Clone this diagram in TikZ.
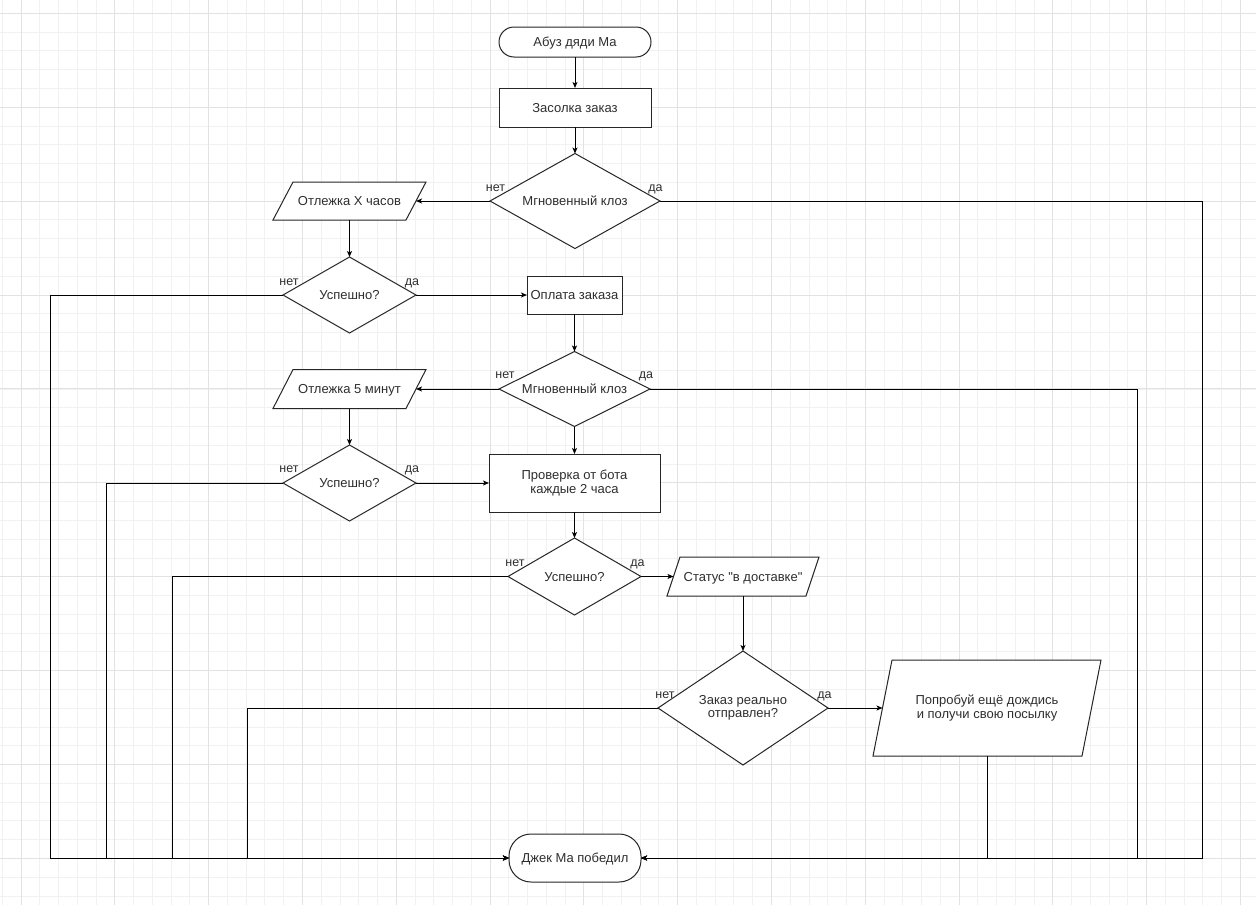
\documentclass[tikz,border=0pt]{standalone}
\usepackage{fontspec}
\setmainfont{Liberation Sans}
\usetikzlibrary{shapes.geometric,arrows.meta}
\definecolor{txt}{HTML}{2E2E2E}
\definecolor{gminor}{HTML}{F1F1F1}
\definecolor{gmajor}{HTML}{E2E2E2}
\tikzset{
  shp/.style={draw=black!85, line width=1pt, fill=white},
  basenode/.style={inner sep=0pt, outer sep=0pt, text=txt, align=center,
    font=\fontsize{13}{13.3}\selectfont},
  one/.style={text height=9.3pt, text depth=0pt},
  term/.style={basenode, one, shp, rectangle, rounded corners=#1},
  stepbox/.style={basenode, shp, rectangle},
  decision/.style={basenode, shp, diamond, aspect=2},
  parabox/.style={basenode, rectangle},
  lbl/.style={inner sep=0pt, outer sep=0pt, text=txt, one,
    font=\fontsize{12.5}{13.3}\selectfont},
  arr/.style={draw=black, line width=1pt, -{Stealth[length=6pt,width=5pt,inset=1.5pt]}},
}
\newcommand\drawpara[2]{%
  \draw[shp] ([xshift=#2]#1.north west) -- (#1.north east) -- ([xshift=-#2]#1.south east) -- (#1.south west) -- cycle;}
\begin{document}
\begin{tikzpicture}[x=1pt,y=-1pt]
\useasboundingbox (0,0) rectangle (1256,905);
\fill[white] (0,0) rectangle (1256,905);
% grid
\foreach \i in {-1,...,66} \draw[gminor, line width=0.8pt] ({21+18.76*\i},0) -- ({21+18.76*\i},905);
\foreach \j in {0,...,47} \draw[gminor, line width=0.8pt] (0,{13.3+18.78*\j}) -- (1256,{13.3+18.78*\j});
\foreach \k in {0,...,13} \draw[gmajor, line width=0.9pt] ({21+93.8*\k},0) -- ({21+93.8*\k},905);
\foreach \k in {0,...,9} \draw[gmajor, line width=0.9pt] (0,{13.3+93.9*\k}) -- (1256,{13.3+93.9*\k});

% nodes
\node[term=15pt, minimum width=152pt, minimum height=30pt] (s) at (575,42) {Абуз дяди Ма};
\node[stepbox, one, minimum width=152pt, minimum height=39pt] (b1) at (575,107.5) {Засолка заказ};
\node[decision, one, minimum width=170pt, minimum height=95pt] (d1) at (575,201) {Мгновенный клоз};
\node[parabox, one, minimum width=153pt, minimum height=38pt] (p1) at (349.5,201) {};
\drawpara{p1}{20pt}
\node[basenode, one] at (p1) {Отлежка X часов};
\node[decision, one, minimum width=133pt, minimum height=76pt] (d2) at (349.5,295) {Успешно?};
\node[stepbox, one, minimum width=95pt, minimum height=38pt] (b2) at (574.5,295) {Оплата заказа};
\node[decision, one, minimum width=151pt, minimum height=75pt] (d3) at (574.5,389) {Мгновенный клоз};
\node[parabox, one, minimum width=153pt, minimum height=39pt] (p2) at (349.5,389) {};
\drawpara{p2}{20pt}
\node[basenode, one] at (p2) {Отлежка 5 минут};
\node[decision, one, minimum width=133pt, minimum height=76pt] (d4) at (349.5,483) {Успешно?};
\node[stepbox, minimum width=171pt, minimum height=58pt] (b3) at (574.5,483) {Проверка от бота\\каждые 2 часа};
\node[decision, one, minimum width=133pt, minimum height=77pt] (d5) at (574.5,576.5) {Успешно?};
\node[parabox, minimum width=152pt, minimum height=39pt] (p3) at (743,576.5) {};
\drawpara{p3}{13pt}
\node[basenode, one] at (p3) {Статус \textquotedbl в доставке\textquotedbl};
\node[decision, minimum width=170pt, minimum height=114pt] (d6) at (743,708) {Заказ реально\\отправлен?};
\node[parabox, minimum width=228pt, minimum height=96pt] (p4) at (987,708) {};
\drawpara{p4}{19pt}
\node[basenode] at (p4) {Попробуй ещё дождись\\и получи свою посылку};
\node[term=22pt, minimum width=132pt, minimum height=48pt] (e) at (575,858) {Джек Ма победил};

% corner coordinates
\coordinate (c1) at (1202,858);
\coordinate (c2) at (50,858);
\coordinate (c3) at (1137,858);
\coordinate (c4) at (106,858);
\coordinate (c5) at (172,858);
\coordinate (c6) at (247,858);

% connectors
\draw[arr] (s.south) -- (b1.north);
\draw[arr] (b1.south) -- (d1.north);
\draw[arr] (d1.west) -- ([xshift=-10pt]p1.east);
\draw[arr] (d1.east) -| (c1) -- (e.east);
\draw[arr] (p1.south) -- (d2.north);
\draw[arr] (d2.west) -| (c2) -- (e.west);
\draw[arr] (d2.east) -- (b2.west);
\draw[arr] (b2.south) -- (d3.north);
\draw[arr] (d3.west) -- ([xshift=-10pt]p2.east);
\draw[arr] (d3.east) -| (c3) -- (e.east);
\draw[arr] (d3.south) -- (b3.north);
\draw[arr] (p2.south) -- (d4.north);
\draw[arr] (d4.west) -| (c4) -- (e.west);
\draw[arr] (d4.east) -- (b3.west);
\draw[arr] (b3.south) -- (d5.north);
\draw[arr] (d5.west) -| (c5) -- (e.west);
\draw[arr] (d5.east) -- ([xshift=6.5pt]p3.west);
\draw[arr] (p3.south) -- (d6.north);
\draw[arr] (d6.west) -| (c6) -- (e.west);
\draw[arr] (d6.east) -- ([xshift=9.5pt]p4.west);
\draw[arr] (p4.south) |- (e.east);

% labels
\node[lbl] (n1) at (495.5,187) {нет};
\node[lbl] (y1) at (655.5,187) {да};
\node[lbl] (n2) at (289,281) {нет};
\node[lbl] (y2) at (412,281) {да};
\node[lbl] (n3) at (505,374) {нет};
\node[lbl] (y3) at (646,374) {да};
\node[lbl] (n4) at (289,468) {нет};
\node[lbl] (y4) at (412,468) {да};
\node[lbl] (n5) at (515,562) {нет};
\node[lbl] (y5) at (637.5,562) {да};
\node[lbl] (n6) at (665,694) {нет};
\node[lbl] (y6) at (824.5,694) {да};
\end{tikzpicture}
\end{document}
